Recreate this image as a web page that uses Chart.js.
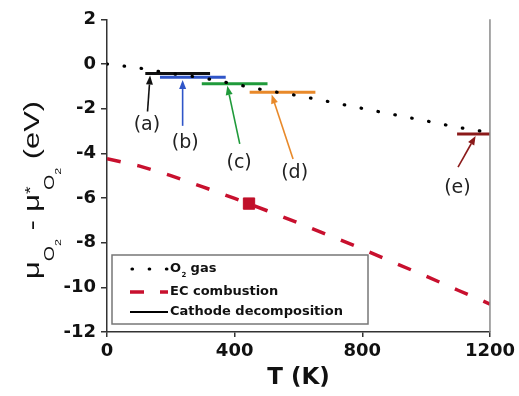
<!DOCTYPE html>
<html>
<head>
<meta charset="utf-8">
<script src="https://cdn.jsdelivr.net/npm/chart.js@4.4.1/dist/chart.umd.min.js"></script>
<style>
  html, body { margin: 0; padding: 0; background: #fff; }
  #wrap { width: 519px; height: 396px; }
</style>
</head>
<body>
<div id="wrap"><canvas id="myChart" width="519" height="396"></canvas></div>
<script>
// temperature grid (K) for the gas and electrolyte curves
const temperatures = [0, 100, 200, 300, 400, 500, 600, 700, 800, 900, 1000, 1100, 1200];
const muO2Gas = [0, -0.18, -0.43, -0.62, -0.90, -1.19, -1.42, -1.70, -1.99, -2.27, -2.55, -2.84, -3.07];
const muECCombustion = [-4.24, -4.56, -5.00, -5.50, -6.02, -6.56, -7.12, -7.70, -8.28, -8.90, -9.50, -10.13, -10.75];

// marked point on the EC combustion curve
const ecMarkT = [445];
const ecMarkMu = [-6.25];

// cathode decomposition steps: temperature range and chemical potential
const stepLabels = ['(a)', '(b)', '(c)', '(d)', '(e)'];
const stepTStart = [120, 166, 297, 447, 1097];
const stepTEnd = [323, 372, 503, 653, 1200];
const stepMu = [-0.43, -0.60, -0.88, -1.27, -3.13];
const stepColors = ['#111111', '#2f55c8', '#1f9a3a', '#e8892a', '#8b1a1a'];

// where each step label sits and where its arrow points (T, mu)
const labelT = [125, 245, 414, 588, 1098];
const labelMu = [-2.74, -3.55, -4.42, -4.89, -5.56];
const arrowTailT = [127, 237, 416, 583, 1100];
const arrowTailMu = [-2.13, -2.77, -3.58, -4.26, -4.62];
const arrowTipT = [135, 237, 377, 516, 1155];
const arrowTipMu = [-0.52, -0.72, -0.98, -1.37, -3.22];

// axes
const tMin = 0, tMax = 1200, tStep = 400;
const muMin = -12, muMax = 2, muStep = 2;

const legendNames = ['O2 gas', 'EC combustion', 'Cathode decomposition'];

const RED = '#c8102e';
const TICK_FONT = { family: 'DejaVu Sans', size: 18, weight: 'bold' };


function toPoints(xs, ys) {
    let pts = [];
    for (var i = 0; i < xs.length; i++) {
        pts.push({ x: xs[i], y: ys[i] });
    }
    return pts;
}

function buildDatasets() {
    let sets = [];

    sets.push({
        label: legendNames[0],
        data: toPoints(temperatures, muO2Gas),
        borderColor: '#000',
        borderWidth: 3.2,
        borderDash: [0.5, 16.7],
        borderCapStyle: 'round',
        pointRadius: 0
    });

    sets.push({
        label: legendNames[1],
        data: toPoints(temperatures, muECCombustion),
        borderColor: RED,
        borderWidth: 3.5,
        borderDash: [14, 17],
        pointRadius: 0
    });

    sets.push({
        label: 'EC mark',
        data: toPoints(ecMarkT, ecMarkMu),
        showLine: false,
        pointStyle: 'rect',
        pointRadius: 8,
        backgroundColor: '#c0102a',
        borderColor: '#c0102a',
        borderWidth: 1
    });

    for (var i = 0; i < stepLabels.length; i++) {
        sets.push({
            label: stepLabels[i],
            data: [{ x: stepTStart[i], y: stepMu[i] }, { x: stepTEnd[i], y: stepMu[i] }],
            borderColor: stepColors[i],
            borderWidth: 3,
            pointRadius: 0
        });
    }
    return sets;
}

function drawArrow(ctx, x1, y1, x2, y2, color) {
    let ang = Math.atan2(y2 - y1, x2 - x1);
    let head = 9, half = 3.5;
    let bx = x2 - head * Math.cos(ang);
    let by = y2 - head * Math.sin(ang);

    ctx.strokeStyle = color;
    ctx.fillStyle = color;
    ctx.lineWidth = 1.6;
    ctx.beginPath();
    ctx.moveTo(x1, y1);
    ctx.lineTo(bx, by);
    ctx.stroke();

    ctx.beginPath();
    ctx.moveTo(x2, y2);
    ctx.lineTo(bx + half * Math.sin(ang), by - half * Math.cos(ang));
    ctx.lineTo(bx - half * Math.sin(ang), by + half * Math.cos(ang));
    ctx.closePath();
    ctx.fill();
}

// rotated y title: mu_O2 - mu*_O2 (eV), with sub/superscripts
function drawYTitle(ctx, baseX, startY) {
    const stretch = 1.4;
    const fam = '"Liberation Sans", Arial, sans-serif';
    const parts = [
        { t: '\u03bc', size: 22, dy: 0 },
        { t: 'O', size: 14, dy: 15 },
        { t: '2', size: 9, dy: 22 },
        { t: ' - ', size: 22, dy: 0 },
        { t: '\u03bc', size: 22, dy: 0 },
        { t: '*', size: 14, dy: -4, adv: 0.5 },
        { t: 'O', size: 14, dy: 15 },
        { t: '2', size: 9, dy: 22 },
        { t: ' (eV)', size: 22, dy: 0 }
    ];

    ctx.save();
    ctx.translate(baseX, startY);
    ctx.rotate(-Math.PI / 2);
    ctx.scale(stretch, 1);
    ctx.fillStyle = '#111';
    ctx.textBaseline = 'alphabetic';
    ctx.textAlign = 'left';

    let cx = 0;
    for (var i = 0; i < parts.length; i++) {
        let p = parts[i];
        ctx.font = p.size + 'px ' + fam;
        ctx.fillText(p.t, cx, p.dy);
        let w = ctx.measureText(p.t).width;
        cx += (p.adv !== undefined) ? w * p.adv : w;
    }
    ctx.restore();
}

function drawLegend(ctx, area) {
    let left = area.left + 5;
    let top = 255;
    let w = 256, h = 69;
    let x1 = left + 18, x2 = left + 56;
    let textX = left + 58;
    let rows = [269, 292, 312];

    ctx.save();
    ctx.fillStyle = '#fff';
    ctx.fillRect(left, top, w, h);
    ctx.strokeStyle = '#777';
    ctx.lineWidth = 1.5;
    ctx.strokeRect(left, top, w, h);

    // dotted sample
    ctx.strokeStyle = '#000';
    ctx.lineWidth = 3.2;
    ctx.lineCap = 'round';
    ctx.setLineDash([0.5, 16.7]);
    ctx.beginPath();
    ctx.moveTo(x1 + 2, rows[0]);
    ctx.lineTo(x2, rows[0]);
    ctx.stroke();

    // dashed sample
    ctx.strokeStyle = RED;
    ctx.lineWidth = 3.5;
    ctx.lineCap = 'butt';
    ctx.setLineDash([14, 16]);
    ctx.beginPath();
    ctx.moveTo(x1, rows[1]);
    ctx.lineTo(x2, rows[1]);
    ctx.stroke();

    // solid sample
    ctx.strokeStyle = '#000';
    ctx.lineWidth = 2;
    ctx.setLineDash([]);
    ctx.beginPath();
    ctx.moveTo(x1, rows[2]);
    ctx.lineTo(x2, rows[2]);
    ctx.stroke();

    ctx.fillStyle = '#111';
    ctx.textBaseline = 'middle';
    ctx.textAlign = 'left';
    ctx.font = 'bold 13px "DejaVu Sans"';
    ctx.fillText('O', textX, rows[0]);
    let ow = ctx.measureText('O').width;
    ctx.font = 'bold 7px "DejaVu Sans"';
    ctx.fillText('2', textX + ow + 0.5, rows[0] + 6);
    ctx.font = 'bold 13px "DejaVu Sans"';
    ctx.fillText(' gas', textX + ow + 5, rows[0]);
    ctx.fillText(legendNames[1], textX, rows[1]);
    ctx.fillText(legendNames[2], textX, rows[2]);
    ctx.restore();
}

const decorations = {
    id: 'decorations',
    afterDatasetsDraw(chart) {
        let ctx = chart.ctx;
        let area = chart.chartArea;
        let xs = chart.scales.x;
        let ys = chart.scales.y;

        ctx.save();
        // right frame
        ctx.strokeStyle = '#8a8a8a';
        ctx.lineWidth = 1.5;
        ctx.beginPath();
        ctx.moveTo(area.right, area.top);
        ctx.lineTo(area.right, area.bottom);
        ctx.stroke();

        // arrows and step labels
        ctx.font = '19px "DejaVu Sans"';
        ctx.textAlign = 'center';
        ctx.textBaseline = 'middle';
        for (var i = 0; i < stepLabels.length; i++) {
            drawArrow(ctx,
                xs.getPixelForValue(arrowTailT[i]), ys.getPixelForValue(arrowTailMu[i]),
                xs.getPixelForValue(arrowTipT[i]), ys.getPixelForValue(arrowTipMu[i]),
                stepColors[i]);
            ctx.fillStyle = '#222';
            ctx.fillText(stepLabels[i], xs.getPixelForValue(labelT[i]), ys.getPixelForValue(labelMu[i]));
        }
        ctx.restore();

        drawYTitle(ctx, 39, 279);
        drawLegend(ctx, area);
    }
};

function crearGrafico() {
    let ctx = document.getElementById('myChart').getContext('2d');

    new Chart(ctx, {
        type: 'line',
        data: { datasets: buildDatasets() },
        options: {
            responsive: false,
            animation: false,
            layout: { padding: { left: 0, top: 19.3, right: 28, bottom: 0 } },
            plugins: { legend: { display: false }, tooltip: { enabled: false } },
            scales: {
                x: {
                    type: 'linear',
                    min: tMin,
                    max: tMax,
                    ticks: {
                        stepSize: tStep,
                        font: TICK_FONT,
                        color: '#111',
                        padding: 4,
                        callback: function (value) { return String(value); }
                    },
                    grid: { drawOnChartArea: false, tickLength: 5, color: '#333', lineWidth: 1.5 },
                    border: { color: '#333', width: 1.5 },
                    title: {
                        display: true,
                        text: 'T (K)',
                        font: { family: 'DejaVu Sans', size: 23, weight: 'bold' },
                        color: '#111',
                        padding: { top: 0, bottom: 4 }
                    },
                    afterFit: function (scale) { scale.height = 64; }
                },
                y: {
                    min: muMin,
                    max: muMax,
                    ticks: {
                        stepSize: muStep,
                        font: TICK_FONT,
                        color: '#111',
                        padding: 5,
                        callback: function (value) { return String(value); }
                    },
                    grid: { drawOnChartArea: false, tickLength: 6, color: '#333', lineWidth: 1.5 },
                    border: { color: '#333', width: 1.5 },
                    afterFit: function (scale) { scale.width = 107; }
                }
            }
        },
        plugins: [decorations]
    });
}

crearGrafico();
</script>
</body>
</html>
